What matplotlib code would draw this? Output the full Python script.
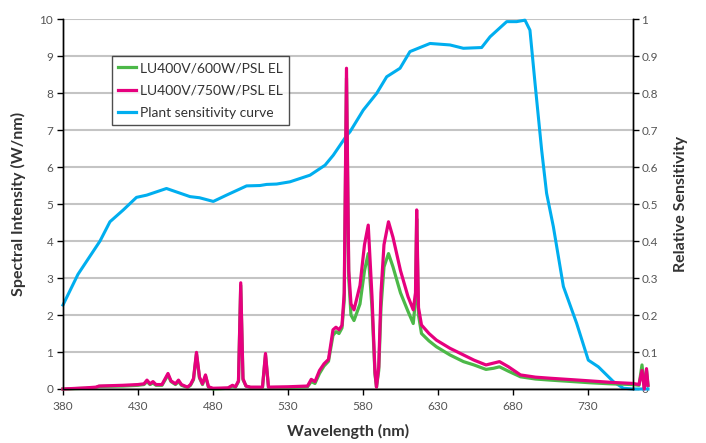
import numpy as np
import matplotlib.pyplot as plt

plt.rcParams["font.family"] = ["Lato", "DejaVu Sans"]

# spectra (W/nm)
wl_600 = [380, 395, 402, 404, 420, 430, 434, 436, 438, 440, 442, 446, 450, 452, 455, 457, 459, 463,
          465, 467, 469, 471, 473, 475, 477, 480, 490, 493, 495, 497, 498.5, 500, 502, 505, 513, 515, 517,
          530, 543, 545.5, 548, 551, 554, 557, 560, 562, 564, 566, 567.5, 569, 570.5, 572, 574,
          578, 581, 583.5, 586, 588, 589, 590.5, 592, 594, 597, 600, 605, 610, 613.5, 615, 615.8, 617, 619,
          624, 629, 638, 647, 654, 662, 667, 671, 677, 685, 695, 705, 720, 731, 745, 760, 764, 766, 767.5, 769, 770]
sp_600 = [0.0, 0.02, 0.04, 0.07, 0.08, 0.1, 0.12, 0.2, 0.12, 0.16, 0.1, 0.1, 0.38, 0.2, 0.12, 0.2, 0.1, 0.04,
          0.1, 0.25, 0.95, 0.3, 0.12, 0.35, 0.05, 0.0, 0.02, 0.08, 0.05, 0.2, 2.8, 0.25, 0.08, 0.04, 0.04, 0.92, 0.04,
          0.04, 0.06, 0.2, 0.15, 0.42, 0.62, 0.75, 1.45, 1.55, 1.5, 1.65, 2.4, 8.4, 3.0, 2.0, 1.85,
          2.3, 3.2, 3.66, 2.2, 0.4, 0.05, 0.5, 2.2, 3.3, 3.66, 3.3, 2.6, 2.1, 1.77, 2.4, 4.6, 2.0, 1.5,
          1.3, 1.14, 0.92, 0.74, 0.65, 0.53, 0.56, 0.6, 0.48, 0.33, 0.27, 0.24, 0.2, 0.17, 0.14, 0.12, 0.1, 0.65, 0.05, 0.5, 0.1]

wl_750 = [380, 395, 402, 404, 420, 430, 434, 436, 438, 440, 442, 446, 450, 452, 455, 457, 459, 463,
          465, 467, 469, 471, 473, 475, 477, 480, 490, 493, 495, 497, 498.5, 500, 502, 505, 513, 515, 517,
          530, 543, 545.5, 548, 551, 554, 557, 560, 562, 564, 566, 567.5, 569, 570.5, 572, 574,
          578, 581, 583.5, 586, 588, 589, 590.5, 592, 594, 597, 600, 605, 610, 613.5, 615, 615.8, 617, 619,
          624, 629, 638, 647, 654, 662, 667, 671, 677, 685, 695, 705, 720, 731, 745, 760, 764, 766, 767.5, 769, 770]
sp_750 = [0.0, 0.03, 0.05, 0.08, 0.1, 0.12, 0.14, 0.24, 0.14, 0.2, 0.12, 0.12, 0.42, 0.22, 0.14, 0.24, 0.12, 0.05,
          0.12, 0.28, 0.99, 0.32, 0.14, 0.38, 0.06, 0.02, 0.03, 0.1, 0.06, 0.22, 2.87, 0.28, 0.08, 0.05, 0.05, 0.96, 0.05,
          0.06, 0.08, 0.26, 0.2, 0.5, 0.68, 0.8, 1.6, 1.67, 1.6, 1.72, 2.6, 8.67, 3.2, 2.3, 2.14,
          2.8, 3.9, 4.43, 2.5, 0.45, 0.05, 0.6, 2.6, 3.9, 4.52, 4.1, 3.2, 2.5, 2.14, 2.6, 4.84, 2.2, 1.73,
          1.5, 1.32, 1.1, 0.92, 0.78, 0.65, 0.7, 0.74, 0.6, 0.38, 0.32, 0.29, 0.25, 0.22, 0.18, 0.15, 0.12, 0.5, 0.0, 0.55, 0.1]

# plant sensitivity curve (relative)
wl_plant = [380, 390, 404.7, 411.3, 420.2, 429, 435.8, 449, 464.7, 471, 480.2, 489, 502.4, 511.3, 515.8,
            522.4, 531.3, 544.7, 554.7, 560.2, 569.1, 571.3, 580.2, 589.1, 595.8, 604.7, 611.3, 624.7, 638,
            646.9, 659.1, 664.7, 675.8, 682.4, 688, 691.3, 694.7, 699.1, 702.4, 706.9, 713.6, 722.4, 730.2,
            736.9, 746.9, 753.6, 760, 770]
rel_plant = [0.227, 0.31, 0.40, 0.452, 0.484, 0.518, 0.524, 0.542, 0.52, 0.517, 0.507, 0.524, 0.549, 0.55, 0.553,
             0.554, 0.56, 0.578, 0.605, 0.632, 0.685, 0.695, 0.754, 0.799, 0.844, 0.867, 0.912, 0.934, 0.93,
             0.921, 0.923, 0.952, 0.993, 0.993, 0.997, 0.97, 0.826, 0.646, 0.529, 0.439, 0.277, 0.178, 0.078,
             0.06, 0.02, 0.002, 0.0, 0.0]

x_ticks = [380, 430, 480, 530, 580, 630, 680, 730]

GREEN = "#4cb848"
MAGENTA = "#e6007e"
BLUE = "#00aeef"
TICK_COL = "#555555"

fig = plt.figure(figsize=(7.06, 4.43), dpi=100)
ax = fig.add_axes([0.0892, 0.1219, 0.8074, 0.8351])
ax2 = ax.twinx()

# blue curve on the right axis, spectra on top
ax2.plot(wl_plant, rel_plant, color=BLUE, lw=2.2, clip_on=False, solid_joinstyle="round")
ax2.set_ylim(0, 1)
ax2.set_yticks(np.arange(0, 1.01, 0.1))
ax2.set_yticklabels(["0", "0.1", "0.2", "0.3", "0.4", "0.5", "0.6", "0.7", "0.8", "0.9", "1"])
ax2.grid(axis="y", color="#c4c4c4", lw=1.5)
ax2.set_axisbelow(True)

ax.set_zorder(ax2.get_zorder() + 1)
ax.patch.set_visible(False)
l1, = ax.plot(wl_600, sp_600, color=GREEN, lw=2.3, clip_on=False, solid_joinstyle="round",
              label="LU400V/600W/PSL EL")
l2, = ax.plot(wl_750, sp_750, color=MAGENTA, lw=2.3, clip_on=False, solid_joinstyle="round",
              label="LU400V/750W/PSL EL")
l3, = ax.plot([], [], color=BLUE, lw=2.3, label="Plant sensitivity curve")

ax.set_xlim(380, 760)
ax.set_ylim(0, 10)
ax.set_xticks(x_ticks)
ax.set_yticks(range(0, 11))

for a in (ax, ax2):
    a.spines["top"].set_visible(False)
    for s in ("left", "right", "bottom"):
        a.spines[s].set_color("black")
        a.spines[s].set_linewidth(1)
    a.tick_params(colors=TICK_COL, labelsize=8.5, length=4, width=1)
    a.tick_params(axis="both", which="both", color="black")
ax.tick_params(axis="y", pad=3)
ax2.tick_params(axis="y", pad=2)
ax.tick_params(axis="x", pad=5)

ax.set_xlabel("Wavelength (nm)", fontsize=11.5, fontweight="bold", color="#333333", labelpad=8)
ax.set_ylabel("Spectral Intensity (W/nm)", fontsize=11.5, fontweight="bold", color="#333333", labelpad=10)
ax2.set_ylabel("Relative Sensitivity", fontsize=11.5, fontweight="bold", color="#333333", labelpad=12)

leg = ax.legend(handles=[l1, l2, l3], loc="upper left", bbox_to_anchor=(0.086, 0.9),
                fontsize=10, frameon=True, fancybox=False, handlelength=1.3,
                handletextpad=0.3, borderpad=0.45, labelspacing=0.75, borderaxespad=0)
leg.get_frame().set_edgecolor("#222222")
leg.get_frame().set_linewidth(1)
for t in leg.get_texts():
    t.set_color("#333333")

fig.savefig("out.png", dpi=100)
